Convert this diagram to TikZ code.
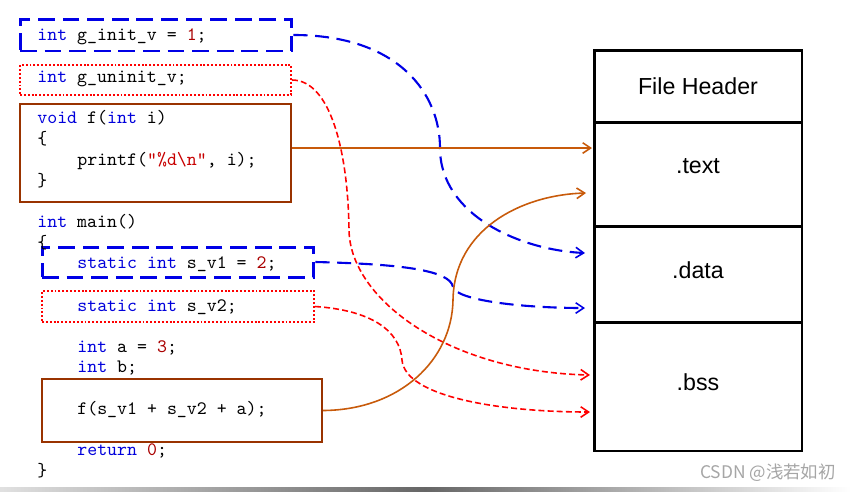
\documentclass[tikz,border=0pt]{standalone}
\usepackage{fontspec}
\setmainfont{Liberation Sans}
\newfontfamily\cjkfont{Noto Sans CJK SC}
\usetikzlibrary{arrows.meta}
\definecolor{kwblue}{RGB}{0,0,220}
\definecolor{numred}{RGB}{170,0,0}
\definecolor{strred}{RGB}{200,0,0}
\definecolor{boxbrown}{RGB}{153,51,0}
\definecolor{arrbrown}{RGB}{200,90,10}
\definecolor{lineblue}{RGB}{0,0,230}
\definecolor{linered}{RGB}{255,0,0}
\newcommand{\kw}[1]{\textcolor{kwblue}{#1}}
\newcommand{\nm}[1]{\textcolor{numred}{#1}}
\tikzset{
  code/.style={anchor=base west, inner sep=0pt, font=\ttfamily\fontsize{10.8}{12}\selectfont},
  bluebox/.style={draw=lineblue, line width=1.7pt, dash pattern=on 9.5pt off 4.5pt, inner sep=0pt},
  redbox/.style={draw=linered, line width=1.1pt, dash pattern=on 1.1pt off 1.1pt, inner sep=0pt},
  brownbox/.style={draw=boxbrown, line width=1.2pt, inner sep=0pt},
  sect/.style={draw=black, line width=1.7pt, minimum width=4.16cm, inner sep=0pt},
  sectlabel/.style={font=\fontsize{13.2}{15}\selectfont, inner sep=0pt},
  tip/.style={-{Straight Barb[length=4.5pt,width=6pt,line width=0.9pt]}},
  bluearr/.style={tip, draw=lineblue, line width=1.2pt, dash pattern=on 8pt off 4.3pt},
  redarr/.style={tip, draw=linered, line width=0.9pt, dash pattern=on 3.4pt off 1.8pt},
  brownarr/.style={tip, draw=arrbrown, line width=0.9pt},
}
\begin{document}
\begin{tikzpicture}[x=0.02cm,y=-0.02cm]
\useasboundingbox (0,0) rectangle (851,491);
\fill[white] (0,0) rectangle (851,491);

% code boxes
\node[bluebox, minimum width=5.44cm, minimum height=0.64cm] (ginit) at (156,35) {};
\node[redbox, minimum width=5.42cm, minimum height=0.60cm] (guninit) at (155.5,80) {};
\node[brownbox, minimum width=5.42cm, minimum height=1.96cm] (fbox) at (155.5,153) {};
\node[bluebox, minimum width=5.44cm, minimum height=0.60cm] (sv1) at (178,262) {};
\node[redbox, minimum width=5.44cm, minimum height=0.62cm] (sv2) at (178,306.5) {};
\node[brownbox, minimum width=5.60cm, minimum height=1.26cm] (fcall) at (182,410.5) {};

% code text
\node[code] (l1) at (37,40) {\kw{int} g\_init\_v = \nm{1};};
\node[code] (l2) at (37,82) {\kw{int} g\_uninit\_v;};
\node[code] (l3) at (37,123) {\kw{void} f(\kw{int} i)};
\node[code] (l4) at (37,144) {\{};
\node[code] (l5) at (77,165) {printf(\textcolor{strred}{"\%d\textbackslash n"}, i);};
\node[code] (l6) at (37,186) {\}};
\node[code] (l7) at (37,227) {\kw{int} main()};
\node[code] (l8) at (37,248) {\{};
\node[code] (l9) at (77,268) {\kw{static} \kw{int} s\_v1 = \nm{2};};
\node[code] (l10) at (77,311) {\kw{static} \kw{int} s\_v2;};
\node[code] (l11) at (77,352) {\kw{int} a = \nm{3};};
\node[code] (l12) at (77,372) {\kw{int} b;};
\node[code] (l13) at (77,414) {f(s\_v1 + s\_v2 + a);};
\node[code] (l14) at (77,455) {\kw{return} \nm{0};};
\node[code] (l15) at (37,476) {\}};

% ELF sections
\node[sect, minimum height=1.44cm] (header) at (698,86) {};
\node[sect, minimum height=2.08cm] (text) at (698,174) {};
\node[sect, minimum height=1.92cm] (data) at (698,274) {};
\node[sect, minimum height=2.58cm] (bss) at (698,386.5) {};
\node[sectlabel] (lheader) at (698,86) {File Header};
\node[sectlabel] (ltext) at (698,166) {.text};
\node[sectlabel] (ldata) at (698,270) {.data};
\node[sectlabel] (lbss) at (698,382) {.bss};

% arrow end points
\coordinate (tA) at (592,148);
\coordinate (tB) at (586,193);
\coordinate (dA) at (585,253);
\coordinate (dB) at (585,308);
\coordinate (bA) at (590,375);
\coordinate (bB) at (590,412);

% connectors
\draw[bluearr] (ginit.east) .. controls (400,35) and (440,95) .. (440,148)
   .. controls (440,215) and (520,250) .. (dA);
\draw[redarr] (guninit.east) .. controls (330,80) and (348,150) .. (349,230)
   .. controls (350,300) and (450,372) .. (bA);
\draw[brownarr] (fbox.east |- tA) -- (tA);
\draw[bluearr] (sv1.east) .. controls (400,264) and (450,270) .. (453,287)
   .. controls (456,300) and (520,308) .. (dB);
\draw[redarr] (sv2.east) .. controls (370,310) and (400,330) .. (402,360)
   .. controls (405,397) and (500,412) .. (bB);
\draw[brownarr] (fcall.east) .. controls (400,410) and (452,360) .. (453,300)
   .. controls (454,230) and (520,195) .. (tB);

% watermark and bottom bar
\node[font=\cjkfont\fontsize{9.9}{11}\selectfont, text=black!35, anchor=east, inner sep=0pt] (wm) at (836,473) {CSDN @浅若如初};
\shade[left color=black!12, right color=black!60] (0,487.5) rectangle (425,491);
\shade[left color=black!60, right color=white] (425,487.5) rectangle (851,491);
\end{tikzpicture}
\end{document}
